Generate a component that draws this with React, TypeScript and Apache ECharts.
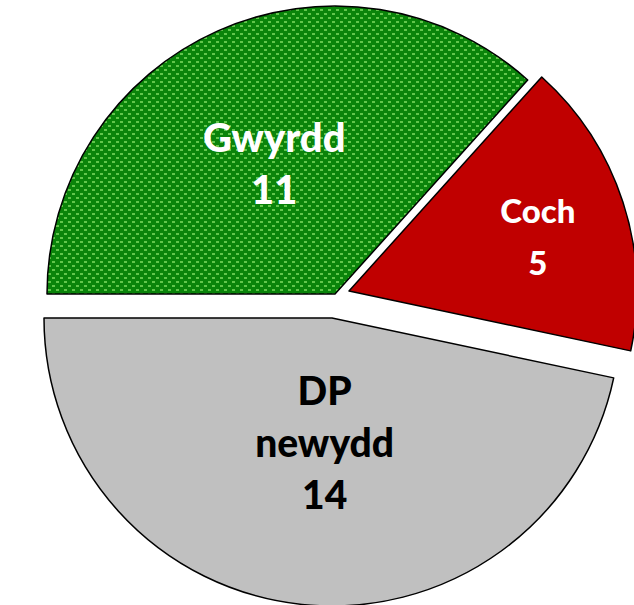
import React, { useEffect, useRef } from "react";
import * as echarts from "echarts";

const categories = ["Gwyrdd", "Coch", "DP newydd"];
const values = [11, 5, 14];
const sliceColors = ["#108a10", "#c00000", "#c0c0c0"];
const labelColors = ["#ffffff", "#ffffff", "#000000"];
const labelSizes = [40, 33, 39];

function makePattern(): HTMLCanvasElement {
  const c = document.createElement("canvas");
  c.width = 8;
  c.height = 8;
  const ctx = c.getContext("2d")!;
  ctx.fillStyle = "#0a840a";
  ctx.fillRect(0, 0, 8, 8);
  ctx.fillStyle = "#62c64c";
  ctx.fillRect(0, 1, 3, 2);
  ctx.fillRect(4, 5, 3, 2);
  return c;
}

export default function App() {
  const ref = useRef<HTMLDivElement>(null);
  useEffect(() => {
    const chart = echarts.init(ref.current!, null, { renderer: "svg" });
    const pattern = makePattern();
    const centers: [number, number][] = [
      [335, 294],
      [349, 291],
      [332, 318],
    ];
    const offsets: [number, number][] = [
      [-1, 3],
      [49, -10],
      [8, -22],
    ];
    const series = categories.map((_, si) => ({
      type: "pie",
      center: centers[si],
      radius: 288,
      startAngle: 180,
      clockwise: true,
      silent: true,
      avoidLabelOverlap: false,
      emphasis: { disabled: true },
      labelLine: { show: false },
      data: categories.map((name, i) => {
        const visible = i === si;
        return {
          name,
          value: values[i],
          itemStyle: visible
            ? {
                color: i === 0 ? { image: pattern, repeat: "repeat" } : sliceColors[i],
                borderColor: "#000",
                borderWidth: 1.5,
              }
            : { color: "rgba(0,0,0,0)", borderWidth: 0 },
          label: visible
            ? {
                show: true,
                position: "inside",
                offset: offsets[i],
                formatter: (p: any) => p.name.replace(" ", "\n") + "\n" + p.value,
                color: labelColors[i],
                fontFamily: "Lato",
                fontWeight: 900,
                fontSize: labelSizes[i],
                lineHeight: 52,
                align: "center",
              }
            : { show: false },
        };
      }),
    }));
    chart.setOption({
      animation: false,
      series,
    } as any);
    return () => chart.dispose();
  }, []);
  return (
    <div
      ref={ref}
      style={{ position: "absolute", left: 0, top: 0, width: 634, height: 605 }}
    />
  );
}
